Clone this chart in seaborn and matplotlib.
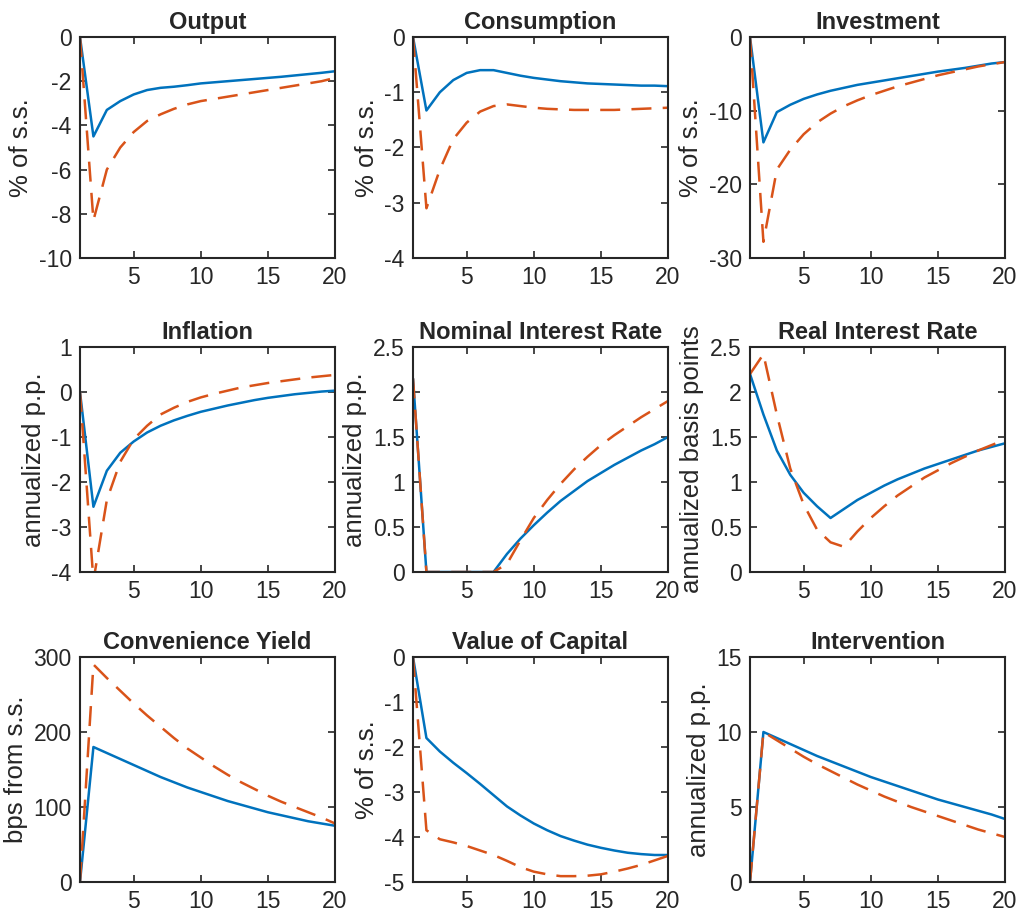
import numpy as np
import pandas as pd
import matplotlib as mpl
import matplotlib.pyplot as plt
import seaborn as sns

# DATA
periods = list(range(1, 21))

output_base = [0, -4.5, -3.3, -2.9, -2.6, -2.4, -2.3, -2.25, -2.18, -2.1,
               -2.05, -2.0, -1.95, -1.9, -1.85, -1.8, -1.74, -1.68, -1.62, -1.55]
output_alt = [0, -8.3, -6.0, -5.0, -4.3, -3.8, -3.5, -3.25, -3.05, -2.9,
              -2.8, -2.7, -2.6, -2.5, -2.4, -2.3, -2.2, -2.1, -2.0, -1.85]

cons_base = [0, -1.33, -1.0, -0.78, -0.65, -0.6, -0.6, -0.65, -0.7, -0.74,
             -0.77, -0.8, -0.82, -0.84, -0.85, -0.86, -0.87, -0.88, -0.88, -0.89]
cons_alt = [0, -3.1, -2.4, -1.85, -1.55, -1.35, -1.25, -1.22, -1.25, -1.28,
            -1.3, -1.31, -1.32, -1.32, -1.32, -1.32, -1.31, -1.3, -1.29, -1.28]

inv_base = [0, -14.3, -10.2, -9.2, -8.4, -7.8, -7.3, -6.9, -6.5, -6.2,
            -5.9, -5.6, -5.3, -5.0, -4.7, -4.45, -4.2, -3.9, -3.6, -3.4]
inv_alt = [0, -27.8, -18.0, -15.3, -13.2, -11.6, -10.4, -9.4, -8.6, -7.9,
           -7.3, -6.7, -6.2, -5.7, -5.2, -4.8, -4.4, -4.0, -3.7, -3.4]

infl_base = [0, -2.55, -1.75, -1.35, -1.1, -0.9, -0.75, -0.63, -0.53, -0.44,
             -0.37, -0.3, -0.24, -0.18, -0.13, -0.09, -0.05, -0.02, 0.01, 0.03]
infl_alt = [0, -4.2, -2.4, -1.55, -1.05, -0.75, -0.5, -0.35, -0.22, -0.12,
            -0.04, 0.03, 0.1, 0.15, 0.2, 0.24, 0.28, 0.32, 0.35, 0.38]

nom_base = [2.15, 0, 0, 0, 0, 0, 0, 0.2, 0.37, 0.52,
            0.66, 0.79, 0.9, 1.01, 1.1, 1.19, 1.27, 1.35, 1.42, 1.5]
nom_alt = [2.15, 0, 0, 0, 0, 0, 0, 0.09, 0.35, 0.6,
           0.8, 0.98, 1.14, 1.28, 1.41, 1.52, 1.62, 1.72, 1.81, 1.9]

real_base = [2.2, 1.75, 1.35, 1.08, 0.88, 0.73, 0.6, 0.7, 0.8, 0.88,
             0.96, 1.03, 1.09, 1.15, 1.2, 1.25, 1.3, 1.35, 1.39, 1.43]
real_alt = [2.2, 2.42, 1.75, 1.15, 0.75, 0.47, 0.33, 0.28, 0.45, 0.6,
            0.73, 0.85, 0.95, 1.05, 1.13, 1.21, 1.28, 1.35, 1.41, 1.47]

cy_base = [0, 180, 172, 164, 156, 148, 140, 133, 126, 120,
           114, 108, 103, 98, 93, 89, 85, 81, 78, 75]
cy_alt = [0, 290, 272, 255, 238, 222, 207, 192, 178, 166,
          154, 143, 133, 124, 115, 107, 100, 93, 86, 78]

cap_base = [0, -1.8, -2.1, -2.35, -2.58, -2.82, -3.07, -3.32, -3.52, -3.7,
            -3.85, -3.98, -4.08, -4.17, -4.24, -4.3, -4.35, -4.38, -4.4, -4.4]
cap_alt = [0, -3.85, -4.05, -4.12, -4.2, -4.3, -4.4, -4.53, -4.67, -4.77,
           -4.83, -4.87, -4.87, -4.86, -4.83, -4.77, -4.7, -4.62, -4.52, -4.42]

interv_base = [0, 10, 9.6, 9.2, 8.8, 8.4, 8.05, 7.7, 7.35, 7.0,
               6.7, 6.4, 6.1, 5.8, 5.5, 5.25, 5.0, 4.75, 4.5, 4.2]
interv_alt = [0, 10, 9.45, 8.9, 8.35, 7.85, 7.4, 6.95, 6.5, 6.1,
              5.7, 5.35, 5.0, 4.7, 4.4, 4.1, 3.8, 3.5, 3.25, 3.0]

titles = ["Output", "Consumption", "Investment",
          "Inflation", "Nominal Interest Rate", "Real Interest Rate",
          "Convenience Yield", "Value of Capital", "Intervention"]
ylabels = ["% of s.s.", "% of s.s.", "% of s.s.",
           "annualized p.p.", "annualized p.p.", "annualized basis points",
           "bps from s.s.", "% of s.s.", "annualized p.p."]
series = [(output_base, output_alt), (cons_base, cons_alt), (inv_base, inv_alt),
          (infl_base, infl_alt), (nom_base, nom_alt), (real_base, real_alt),
          (cy_base, cy_alt), (cap_base, cap_alt), (interv_base, interv_alt)]
ylims = [(-10, 0), (-4, 0), (-30, 0), (-4, 1), (0, 2.5), (0, 2.5),
         (0, 300), (-5, 0), (0, 15)]
yticks = [[-10, -8, -6, -4, -2, 0], [-4, -3, -2, -1, 0], [-30, -20, -10, 0],
          [-4, -3, -2, -1, 0, 1], [0, 0.5, 1, 1.5, 2, 2.5], [0, 0.5, 1, 1.5, 2, 2.5],
          [0, 100, 200, 300], [-5, -4, -3, -2, -1, 0], [0, 5, 10, 15]]
xticks = [5, 10, 15, 20]

# STYLE
sns.set_style("ticks")
plt.rcParams['font.family'] = ['Liberation Sans', 'DejaVu Sans']
mpl.rcParams['axes.edgecolor'] = '#262626'
mpl.rcParams['xtick.color'] = '#262626'
mpl.rcParams['ytick.color'] = '#262626'

blue = "#0072BD"
red = "#D95319"

fig = plt.figure(figsize=(10.23, 9.16), dpi=100)

W, H = 1023, 916
lefts = [80, 413, 750]
tops = [37, 347, 657]
heights = [221, 225, 225]
width = 255

for i in range(9):
    r, c = divmod(i, 3)
    ax = fig.add_axes([lefts[c] / W, 1 - (tops[r] + heights[r]) / H,
                       width / W, heights[r] / H])
    base, alt = series[i]
    df = pd.DataFrame({"t": periods, "base": base, "alt": alt})
    sns.lineplot(data=df, x="t", y="base", color=blue, lw=1.8, ax=ax)
    sns.lineplot(data=df, x="t", y="alt", color=red, lw=1.8, ax=ax,
                 dashes=False)
    ax.lines[-1].set_dashes((8, 4.5))
    ax.set_xlim(1, 20)
    ax.set_ylim(*ylims[i])
    ax.set_xticks(xticks)
    ax.set_yticks(yticks[i])
    ax.set_yticklabels([f"{v:g}" for v in yticks[i]])
    ax.tick_params(direction="in", top=True, right=True, length=5,
                   width=1.2, labelsize=16.5, pad=6, labelcolor="#262626")
    for sp in ax.spines.values():
        sp.set_linewidth(1.5)
    ax.set_xlabel("")
    ax.set_ylabel(ylabels[i], fontsize=18.5, color="#262626", labelpad=4)
    ax.set_title(titles[i], fontsize=17, fontweight="bold", pad=6)

plt.savefig("out.png", dpi=100)
plt.close()
